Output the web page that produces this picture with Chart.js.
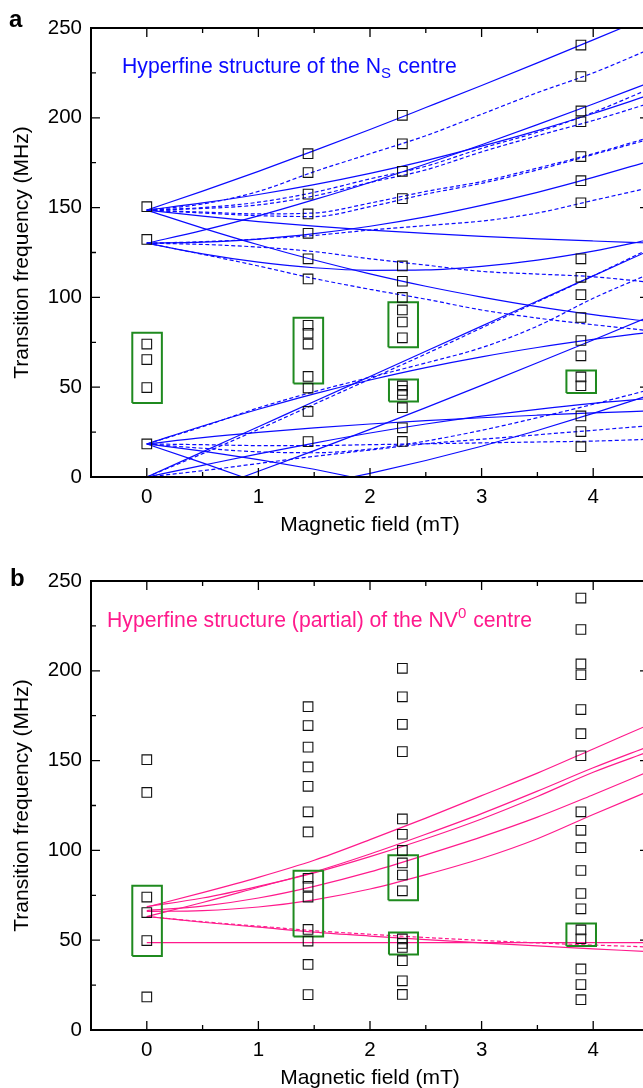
<!DOCTYPE html>
<html>
<head>
<meta charset="utf-8">
<script src="https://cdn.jsdelivr.net/npm/chart.js@4.4.1/dist/chart.umd.min.js"></script>
<style>
  html, body { margin: 0; padding: 0; background: #fff; width: 643px; height: 1088px; overflow: hidden; }
  .panel { position: absolute; left: 0; }
  #panelA { top: 0; }
  #panelB { top: 553px; }
</style>
</head>
<body>
<div class="panel" id="panelA"><canvas id="chartA" width="680" height="545"></canvas></div>
<div class="panel" id="panelB"><canvas id="chartB" width="680" height="545"></canvas></div>

<script>
/* ----------------------------------------------------------
   Data
   ---------------------------------------------------------- */
const fieldGrid = [0, 0.5, 1, 1.5, 2, 2.5, 3, 3.5, 4, 4.5];   // mT
const xTicks = [0, 1, 2, 3, 4];
const xMinorTicks = [0.5, 1.5, 2.5, 3.5];
const yTicks = [0, 50, 100, 150, 200, 250];
const yMinorTicks = [25, 75, 125, 175, 225];

// measured lines (black squares), one column per field value
const measuredField = [0, 1.445, 2.29, 3.89];
const measuredFreq = [
  [150.5, 132.3, 74, 65.4, 49.8, 18.4],
  [180, 169.5, 157.5, 146.5, 135.7, 121.5, 110.3, 84.5, 80, 74, 56, 49.5, 36.5, 19.7],
  [201.4, 185.5, 170.2, 155, 117.5, 109, 100, 93, 86.3, 77.5, 50.7, 48.2, 46, 38.6, 27.4, 19.8],
  [240.5, 223, 203.8, 197.8, 178.4, 165, 152.7, 121.5, 111.2, 101.5, 88.8, 76, 67.5, 55.7, 50.8, 34, 25.3, 16.9]
];

// green boxes around the unexplained lines
const boxField = [[-0.13, 0.135], [1.315, 1.58], [2.165, 2.43], [2.17, 2.43], [3.76, 4.025]];
const boxFreq = [[41.2, 80.3], [52, 88.7], [72.3, 97.3], [42, 54.3], [46.8, 59.3]];

// N_S centre, solid curves (on fieldGrid)
const nsSolid = [
  [0, 14, 28, 42, 56, 70, 84, 98, 112, 126],
  [0, 6.5, 12.9, 18.9, 24.5, 29.5, 33.9, 37.7, 41.0, 43.7],
  [130.2, 130.8, 132.5, 135.5, 139.6, 144.8, 151.2, 158.5, 166.8, 175.8],
  [130.2, 137.3, 145.4, 154.4, 164.0, 174.3, 185.0, 196.2, 207.7, 219.5],
  [130.2, 124.2, 119.6, 116.5, 115.1, 115.3, 117.3, 120.8, 125.8, 132.1],
  [18.4, 21.9, 24.8, 27.3, 29.5, 31.4, 33.0, 34.4, 35.7, 36.8],
  [18.4, 28.4, 37.7, 46.3, 54.0, 60.9, 66.9, 72.1, 76.6, 80.5],
  [148.6, 159.2, 170.2, 181.7, 193.5, 205.7, 218.0, 230.6, 243.4, 256.3],
  [148.6, 152.6, 157.3, 162.8, 169.1, 176.2, 184.2, 192.9, 202.4, 212.6],
  [148.6, 145.2, 142.2, 139.7, 137.5, 135.7, 134.0, 132.6, 131.4, 130.3],
  [148.6, 138.6, 129.3, 120.8, 113.1, 106.2, 100.2, 94.9, 90.4, 86.6]
];

// the two solid curves that touch zero (own field points)
const nsKinkField = [
  [0, 0.5, 0.86, 1, 1.5, 2, 2.5, 3, 3.5, 4, 4.5],
  [0, 0.5, 1, 1.5, 1.84, 2, 2.5, 3, 3.5, 4, 4.5]
];
const nsKinkFreq = [
  [18.4, 7.9, 0, 3.2, 14.7, 26.5, 38.6, 51.0, 63.6, 76.3, 89.2],
  [18.4, 14.4, 9.7, 4.3, 0, 2.0, 9.2, 17.1, 25.9, 35.4, 45.5]
];

// N_S centre, dashed curves (on fieldGrid)
const nsDashed = [
  [148.6, 152, 159, 170, 180, 190, 202, 214, 225, 238],
  [148.6, 150, 153, 158.5, 166, 173, 183, 192, 203, 216],
  [148.6, 149.5, 151.5, 156.5, 164, 171, 181, 190, 198.5, 208],
  [148.6, 147.5, 146.5, 147, 152.5, 159, 164.5, 172, 180, 189],
  [148.6, 147, 145.5, 145, 150.5, 157.5, 163.5, 171, 179.5, 188],
  [130.2, 131, 132.5, 134.5, 137.5, 140, 142.5, 147, 154, 161],
  [130.2, 129.5, 128, 125.5, 121.5, 118, 114.5, 113, 111.5, 108.5],
  [130.2, 124, 117.5, 110.5, 104.5, 99, 93, 88.5, 84.8, 81.5],
  [0, 13, 26.5, 40.5, 54.5, 68.5, 83, 97.5, 112, 127],
  [18.4, 28, 38.5, 47.5, 55.5, 63.5, 72, 84, 99.5, 113],
  [18.4, 16, 14, 13.5, 15.5, 20, 26, 33, 40.5, 48.5],
  [0, 3.5, 7.5, 11.5, 15, 18.5, 21, 23.5, 26, 28.5],
  [18.4, 18, 17.5, 17.5, 18, 18.5, 19, 19.5, 20, 21]
];

// NV0 centre (partial), on fieldGrid
const nvSolid = [
  [68.5, 76.5, 85, 94.5, 106, 118, 130.5, 143, 156.5, 170],
  [63.2, 71, 79.5, 88, 98, 109, 120.5, 133, 146, 158],
  [68.7, 73.5, 80, 87.5, 96.5, 106.5, 117.5, 130, 143.5, 155],
  [66.5, 69, 73.5, 80, 88, 97.5, 107.5, 118.5, 131, 144],
  [66, 66.5, 68.5, 72.5, 78.5, 86.5, 95.5, 106.5, 120, 133],
  [63.2, 60, 57.3, 54.5, 52.3, 50.3, 48.5, 46.8, 45.2, 43.6],
  [48.7, 48.7, 48.7, 48.7, 48.7, 48.7, 48.7, 48.7, 48.7, 48.7]
];
const nvDashed = [
  [63.2, 60.3, 57.8, 55.3, 53.3, 51.5, 49.9, 48.5, 47.3, 46.2]
];

/* ----------------------------------------------------------
   Dataset helpers
   ---------------------------------------------------------- */
const FONT = '"Liberation Sans", Arial, Helvetica, sans-serif';

function curve(xs, ys, color, dashed, straight) {
  return {
    data: xs.map((x, i) => ({ x: x, y: ys[i] })),
    showLine: true,
    borderColor: color,
    borderWidth: 1.2,
    borderDash: dashed ? [4, 2.5] : [],
    pointRadius: 0,
    tension: 0,
    cubicInterpolationMode: straight ? 'default' : 'monotone',
    order: 2
  };
}

function boxDatasets() {
  return boxField.map((bx, i) => {
    const by = boxFreq[i];
    return {
      data: [
        { x: bx[0], y: by[0] }, { x: bx[1], y: by[0] }, { x: bx[1], y: by[1] },
        { x: bx[0], y: by[1] }, { x: bx[0], y: by[0] }
      ],
      showLine: true,
      borderColor: '#1f8a1f',
      borderWidth: 2,
      pointRadius: 0,
      order: 1
    };
  });
}

function squareDataset() {
  const pts = [];
  measuredField.forEach((f, i) => {
    measuredFreq[i].forEach(v => pts.push({ x: f, y: v }));
  });
  return {
    data: pts,
    showLine: false,
    pointStyle: 'rect',
    pointRadius: 6.8,
    pointBorderWidth: 1.1,
    pointBorderColor: '#111',
    pointBackgroundColor: 'rgba(0,0,0,0)',
    order: 0
  };
}

/* ----------------------------------------------------------
   Frame, inward ticks and texts
   ---------------------------------------------------------- */
const framePlugin = {
  id: 'frame',
  afterDraw(chart, args, opts) {
    const { ctx, chartArea: a, scales } = chart;
    const x = scales.x, y = scales.y;
    ctx.save();

    // ticks pointing into the plot on all four sides
    ctx.strokeStyle = '#000';
    ctx.lineWidth = 1.3;
    ctx.beginPath();
    const tickY = (vals, len) => vals.forEach(v => {
      const py = y.getPixelForValue(v);
      ctx.moveTo(a.left, py); ctx.lineTo(a.left + len, py);
      ctx.moveTo(a.right, py); ctx.lineTo(a.right - len, py);
    });
    const tickX = (vals, len) => vals.forEach(v => {
      const px = x.getPixelForValue(v);
      ctx.moveTo(px, a.bottom); ctx.lineTo(px, a.bottom - len);
      ctx.moveTo(px, a.top); ctx.lineTo(px, a.top + len);
    });
    tickY(yTicks, 9); tickY(yMinorTicks, 5);
    tickX(xTicks, 9); tickX(xMinorTicks, 5);
    ctx.stroke();

    ctx.lineWidth = 2;
    ctx.strokeRect(a.left, a.top, a.right - a.left, a.bottom - a.top);

    // panel letter
    ctx.fillStyle = '#000';
    ctx.font = 'bold 24px ' + FONT;
    ctx.textAlign = 'left';
    ctx.textBaseline = 'alphabetic';
    ctx.fillText(opts.letter, opts.letterX, opts.letterY);

    // in-plot title with sub/superscript
    let tx = opts.titleX;
    ctx.fillStyle = opts.titleColor;
    ctx.font = '21.2px ' + FONT;
    ctx.fillText(opts.titleHead, tx, opts.titleY);
    tx += ctx.measureText(opts.titleHead).width;
    ctx.font = '15px ' + FONT;
    ctx.fillText(opts.titleScript, tx, opts.titleY + opts.scriptShift);
    tx += ctx.measureText(opts.titleScript).width + 1;
    ctx.font = '21.2px ' + FONT;
    ctx.fillText(opts.titleTail, tx, opts.titleY);

    // axis titles
    ctx.fillStyle = '#000';
    ctx.font = '21px ' + FONT;
    ctx.textAlign = 'center';
    ctx.textBaseline = 'middle';
    ctx.fillText('Magnetic field (mT)', (a.left + a.right) / 2, a.bottom + 48);
    ctx.translate(22, (a.top + a.bottom) / 2);
    ctx.rotate(-Math.PI / 2);
    ctx.fillText('Transition frequency (MHz)', 0, 0);
    ctx.restore();
  }
};

function makeChart(canvasId, datasets, frameOpts) {
  return new Chart(document.getElementById(canvasId), {
    type: 'scatter',
    data: { datasets: datasets },
    options: {
      responsive: false,
      animation: false,
      events: [],
      layout: { padding: { left: 0, top: 28, right: 31, bottom: 0 } },
      plugins: { legend: { display: false }, tooltip: { enabled: false }, frame: frameOpts },
      scales: {
        x: {
          type: 'linear', min: -0.5, max: 4.5,
          afterBuildTicks: s => { s.ticks = xTicks.map(v => ({ value: v })); },
          afterFit: s => { s.height = 68; },
          grid: { display: false, drawTicks: false },
          border: { display: false },
          ticks: { padding: 8, color: '#000', font: { family: FONT, size: 20.5 } }
        },
        y: {
          type: 'linear', min: 0, max: 250,
          afterBuildTicks: s => { s.ticks = yTicks.map(v => ({ value: v })); },
          afterFit: s => { s.width = 91; },
          grid: { display: false, drawTicks: false },
          border: { display: false },
          ticks: { padding: 9, color: '#000', font: { family: FONT, size: 20.5 } }
        }
      }
    },
    plugins: [framePlugin]
  });
}

/* ----------------------------------------------------------
   Panel a: N_S centre
   ---------------------------------------------------------- */
const BLUE = '#0a0aff';
const PINK = '#ff1a8c';

const setsA = [];
nsSolid.forEach(ys => setsA.push(curve(fieldGrid, ys, BLUE, false)));
nsKinkField.forEach((xs, i) => setsA.push(curve(xs, nsKinkFreq[i], BLUE, false, true)));
nsDashed.forEach(ys => setsA.push(curve(fieldGrid, ys, BLUE, true)));
boxDatasets().forEach(d => setsA.push(d));
setsA.push(squareDataset());

makeChart('chartA', setsA, {
  letter: 'a', letterX: 9, letterY: 27,
  titleColor: BLUE, titleX: 122, titleY: 73, scriptShift: 5,
  titleHead: 'Hyperfine structure of the N', titleScript: 'S', titleTail: ' centre'
});

/* ----------------------------------------------------------
   Panel b: NV0 centre (partial)
   ---------------------------------------------------------- */
const setsB = [];
nvSolid.forEach(ys => setsB.push(curve(fieldGrid, ys, PINK, false)));
nvDashed.forEach(ys => setsB.push(curve(fieldGrid, ys, PINK, true)));
boxDatasets().forEach(d => setsB.push(d));
setsB.push(squareDataset());

makeChart('chartB', setsB, {
  letter: 'b', letterX: 10, letterY: 33,
  titleColor: PINK, titleX: 107, titleY: 74, scriptShift: -9,
  titleHead: 'Hyperfine structure (partial) of the NV', titleScript: '0', titleTail: ' centre'
});
</script>
</body>
</html>
